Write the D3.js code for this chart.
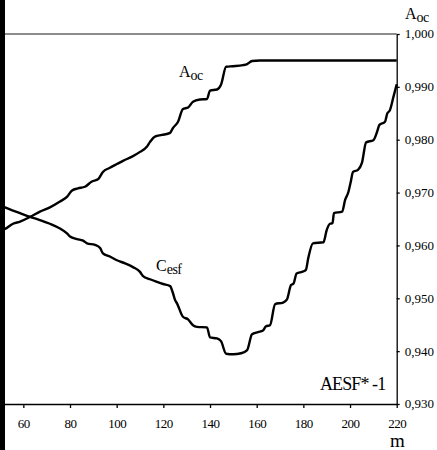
<!DOCTYPE html>
<html>
<head>
<meta charset="utf-8">
<script src="https://cdn.jsdelivr.net/npm/d3@7"></script>
</head>
<body style="margin:0; background:#fff">
<div id="chart"></div>
<script>
// PLOTTING VARIABLES
let chartWidth = 437,
    chartHeight = 450;

let plot = {left: 0, right: 396.7, top: 34, bottom: 404};
let serif = '"Times New Roman"';

// DATA
let xTicks = [60, 80, 100, 120, 140, 160, 180, 200, 220];
let yTicks = [0.93, 0.94, 0.95, 0.96, 0.97, 0.98, 0.99, 1.0];

let mAoc = [50, 52.1, 55.6, 58.6, 62.9, 67.1, 71.4, 75.7, 78.7, 80.9, 83.4, 86.4, 89.4, 92.0,
    94.1, 97.1, 100.1, 102.7, 106.6, 110.0, 113.0, 114.3, 116.4, 119.4, 122.9, 124.1, 126.3,
    128.4, 130.6, 132.7, 135.7, 138.7, 140.0, 143.0, 144.7, 146.9, 149.9, 154.1, 155.9, 158.0,
    161.4, 220];
let aoc = [0.9627, 0.9631, 0.9641, 0.9645, 0.9654, 0.9664, 0.9672, 0.9683, 0.9692, 0.9704,
    0.9708, 0.9711, 0.9721, 0.9725, 0.9739, 0.9747, 0.9754, 0.9760, 0.9768, 0.9777, 0.9787,
    0.9796, 0.9806, 0.9809, 0.9813, 0.9822, 0.9834, 0.9858, 0.9861, 0.9872, 0.9876, 0.9877,
    0.9893, 0.9895, 0.9904, 0.9938, 0.9939, 0.9941, 0.9943, 0.9949, 0.9950, 0.9950];

let mCesf = [50, 52.1, 55.6, 58.6, 62.9, 67.1, 71.4, 75.7, 78.7, 80.0, 83.0, 85.6, 87.3, 90.7,
    92.9, 94.1, 97.1, 100.1, 103.6, 107.0, 110.0, 111.3, 114.3, 117.3, 119.9, 122.9, 124.1,
    125.0, 125.9, 128.4, 130.6, 132.7, 134.4, 138.7, 140.0, 143.0, 144.7, 146.9, 149.9, 153.3,
    155.9, 158.0, 160.6, 162.7, 164.0, 165.7, 167.9, 171.3, 173.0, 174.7, 175.8, 177.1, 180.1,
    181.1, 182.1, 184.1, 188.6, 190.0, 191.4, 192.5, 193.1, 196.6, 197.9, 199.3, 200.2, 201.3,
    203.4, 205.1, 206.9, 210.0, 211.6, 212.6, 215.0, 215.9, 217.1, 218.6, 220.0];
let cesf = [0.9676, 0.9672, 0.9666, 0.9661, 0.9654, 0.9648, 0.9641, 0.9632, 0.9623, 0.9617,
    0.9612, 0.9609, 0.9604, 0.9601, 0.9595, 0.9585, 0.9579, 0.9572, 0.9566, 0.9559, 0.9550,
    0.9542, 0.9536, 0.9531, 0.9527, 0.9523, 0.9510, 0.9497, 0.9490, 0.9465, 0.9460, 0.9449,
    0.9446, 0.9445, 0.9426, 0.9424, 0.9419, 0.9395, 0.9394, 0.9396, 0.9402, 0.9432, 0.9436,
    0.9439, 0.9447, 0.9449, 0.9489, 0.9492, 0.9498, 0.9525, 0.9528, 0.9547, 0.9551, 0.9554,
    0.9576, 0.9604, 0.9606, 0.9629, 0.9641, 0.9642, 0.9661, 0.9664, 0.9686, 0.9701, 0.9718,
    0.9739, 0.9743, 0.9756, 0.9795, 0.9799, 0.9815, 0.9828, 0.9834, 0.9849, 0.9856, 0.9881,
    0.9905];

let aocData = mAoc.map((m, i) => ({m: m, v: aoc[i]}));
let cesfData = mCesf.map((m, i) => ({m: m, v: cesf[i]}));

// ********************* |
// PLOTTING HAPPENS HERE |
// ********************* V

let svg = d3.select('#chart')
    .append('svg')
    .attr('width', chartWidth)
    .attr('height', chartHeight);

// Scales
let xScale = d3.scaleLinear()
    .domain([50, 220])
    .range([plot.left, plot.right]);

let yScale = d3.scaleLinear()
    .domain([0.93, 1.0])
    .range([plot.bottom, plot.top]);

// top frame line (gray)
svg.append('line')
    .attr('x1', 5)
    .attr('x2', plot.right)
    .attr('y1', yScale(1.0))
    .attr('y2', yScale(1.0))
    .attr('stroke', '#666')
    .attr('stroke-width', 1.5);

// curves
let line = d3.line()
    .x(d => xScale(d.m))
    .y(d => yScale(d.v))
    .curve(d3.curveMonotoneX);

[aocData, cesfData].forEach(series => {
    svg.append('path')
        .datum(series)
        .attr('d', line)
        .attr('fill', 'none')
        .attr('stroke', '#000')
        .attr('stroke-width', 2.4)
        .attr('stroke-linejoin', 'round');
});

// bottom axis
let xAxis = svg.append('g')
    .attr('transform', `translate(0,${plot.bottom})`)
    .call(d3.axisBottom(xScale)
        .tickValues(xTicks)
        .tickSize(4)
        .tickSizeOuter(0)
        .tickPadding(11)
        .tickFormat(d3.format('d')));

// right axis
let yAxis = svg.append('g')
    .attr('transform', `translate(${plot.right},0)`)
    .call(d3.axisRight(yScale)
        .tickValues(yTicks)
        .tickSize(3)
        .tickSizeOuter(0)
        .tickPadding(5)
        .tickFormat(d => d3.format('.3f')(d).replace('.', ',')));

[xAxis, yAxis].forEach(ax => {
    ax.attr('font-family', null);
    ax.selectAll('path, line').attr('stroke', '#000').attr('stroke-width', 1.3);
    ax.selectAll('text')
        .style('font-family', serif)
        .style('font-size', '13px')
        .attr('fill', '#000');
});
xAxis.selectAll('text').style('letter-spacing', '-0.5px');
yAxis.selectAll('text').attr('dy', '0.3em');

// labels
function subLabel(x, y, main, sub, size, subSize) {
    let t = svg.append('text')
        .attr('x', x)
        .attr('y', y)
        .style('font-family', serif)
        .style('font-size', size + 'px');
    t.append('tspan').text(main);
    t.append('tspan')
        .style('font-size', subSize + 'px')
        .style('letter-spacing', '-0.5px')
        .attr('dy', 3)
        .text(sub);
}

subLabel(405, 19, 'A', 'oc', 16, 14);
subLabel(179, 77, 'A', 'oc', 16, 14);
subLabel(156, 271, 'C', 'esf', 16, 14);

svg.append('text')
    .attr('x', 320)
    .attr('y', 390)
    .style('font-family', serif)
    .style('font-size', '18px')
    .style('letter-spacing', '-0.9px')
    .text('AESF* -1');

svg.append('text')
    .attr('x', 390)
    .attr('y', 447)
    .style('font-family', serif)
    .style('font-size', '19px')
    .text('m');

// black strip along the left edge
svg.append('rect')
    .attr('x', 0)
    .attr('y', 0)
    .attr('width', 5)
    .attr('height', chartHeight)
    .attr('fill', '#000');
</script>
</body>
</html>
